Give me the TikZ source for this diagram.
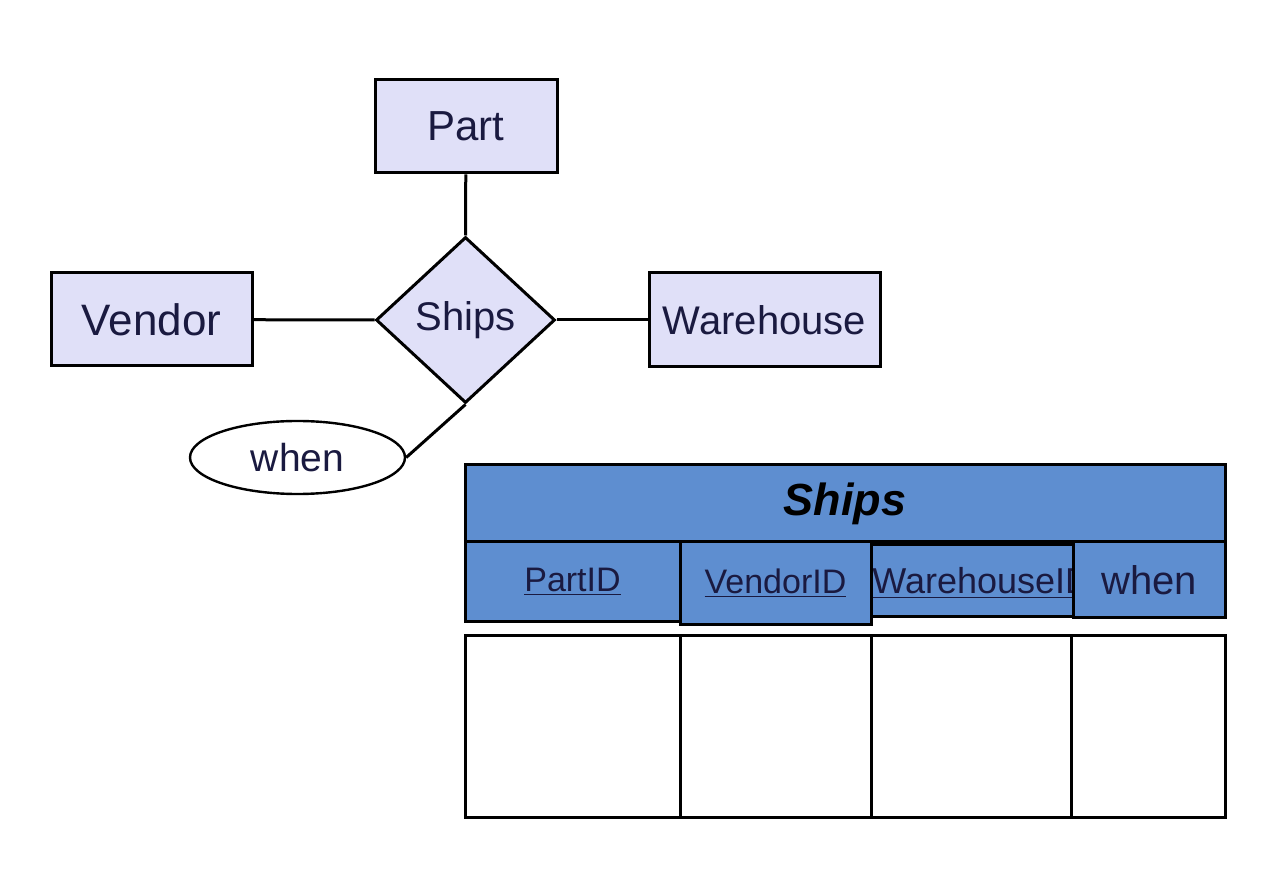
\documentclass[tikz,border=0pt]{standalone}
\usepackage{fontspec}
\setmainfont{Liberation Sans}
\usetikzlibrary{shapes.geometric}
\definecolor{entfill}{HTML}{E0E0F8}
\definecolor{hdrblue}{HTML}{5E8ED0}
\definecolor{navy}{HTML}{1A1A40}
\tikzset{
  ent/.style={draw=black, fill=entfill, line width=1.5pt, inner sep=0pt, text=navy, font=\fontsize{21}{24}\selectfont},
  rel/.style={draw=black, fill=entfill, line width=1.5pt, diamond, aspect=1.08, inner sep=0pt, text=navy, font=\fontsize{20}{24}\selectfont, minimum width=89.5pt, minimum height=83pt},
  attr/.style={draw=black, fill=white, line width=1.2pt, ellipse, inner sep=0pt, text=navy, font=\fontsize{19.5}{22}\selectfont, minimum width=107.5pt, minimum height=36.5pt},
  conn/.style={line width=1.5pt},
  hdr/.style={draw=black, fill=hdrblue, line width=1.5pt, inner sep=0pt, text=navy, font=\fontsize{17}{20}\selectfont},
  cell/.style={draw=black, fill=white, line width=1.5pt, inner sep=0pt, minimum height=90.5pt}
}
\begin{document}
\begin{tikzpicture}[x=0.5pt,y=-0.5pt]
\useasboundingbox[fill=white] (0,0) rectangle (1264,876);
% ER diagram
\node[ent, minimum width=91pt, minimum height=46.5pt] (part) at (466,126.5) {\raisebox{-1pt}{Part}};
\node[ent, minimum width=100.5pt, minimum height=46.5pt, font=\fontsize{22}{24}\selectfont] (vendor) at (151.5,319.5) {Vendor};
\node[ent, minimum width=115.5pt, minimum height=47pt, font=\fontsize{20}{24}\selectfont] (warehouse) at (764.5,320) {Warehouse};
\node[rel] (ships) at (465.5,320) {\raisebox{-2pt}{Ships}};
\node[attr] (when) at (297.5,457.5) {when};
\draw[conn] (part) -- (ships.north);
\draw[conn] (vendor) -- (ships.west);
\draw[conn] (ships.east) -- (warehouse);
\draw[conn] (ships.south) -- (when.east);
% table header
\node[hdr, minimum width=380pt, minimum height=38.5pt, text=black, font=\fontsize{22.5}{26}\selectfont\bfseries\itshape] (title) at (845,503.5) {\raisebox{-1pt}{Ships}};
\node[hdr, minimum width=107.5pt, minimum height=40pt] (c1) at (572.5,582) {\raisebox{-1.5pt}{\underline{PartID}}};
\node[hdr, minimum width=101pt, minimum height=36pt] (c3) at (972,581) {};
\begin{scope}
\clip (c3.south west) rectangle (c3.north east);
\node[anchor=west, inner sep=0pt, text=navy, font=\fontsize{18}{20}\selectfont] (c3t) at (872,583) {\underline{WarehouseID}};
\end{scope}
\node[hdr, minimum width=95.5pt, minimum height=41.5pt] (c2) at (775.5,583.5) {\raisebox{-1pt}{\underline{VendorID}}};
\node[hdr, minimum width=76pt, minimum height=38pt, font=\fontsize{20}{24}\selectfont] (c4) at (1149,580) {\raisebox{-1.5pt}{when}};
% empty rows
\node[cell, minimum width=107.5pt] (r1) at (572.5,726.5) {};
\node[cell, minimum width=95.5pt] (r2) at (775.5,726.5) {};
\node[cell, minimum width=100pt] (r3) at (971,726.5) {};
\node[cell, minimum width=77pt] (r4) at (1148,726.5) {};
\end{tikzpicture}
\end{document}
